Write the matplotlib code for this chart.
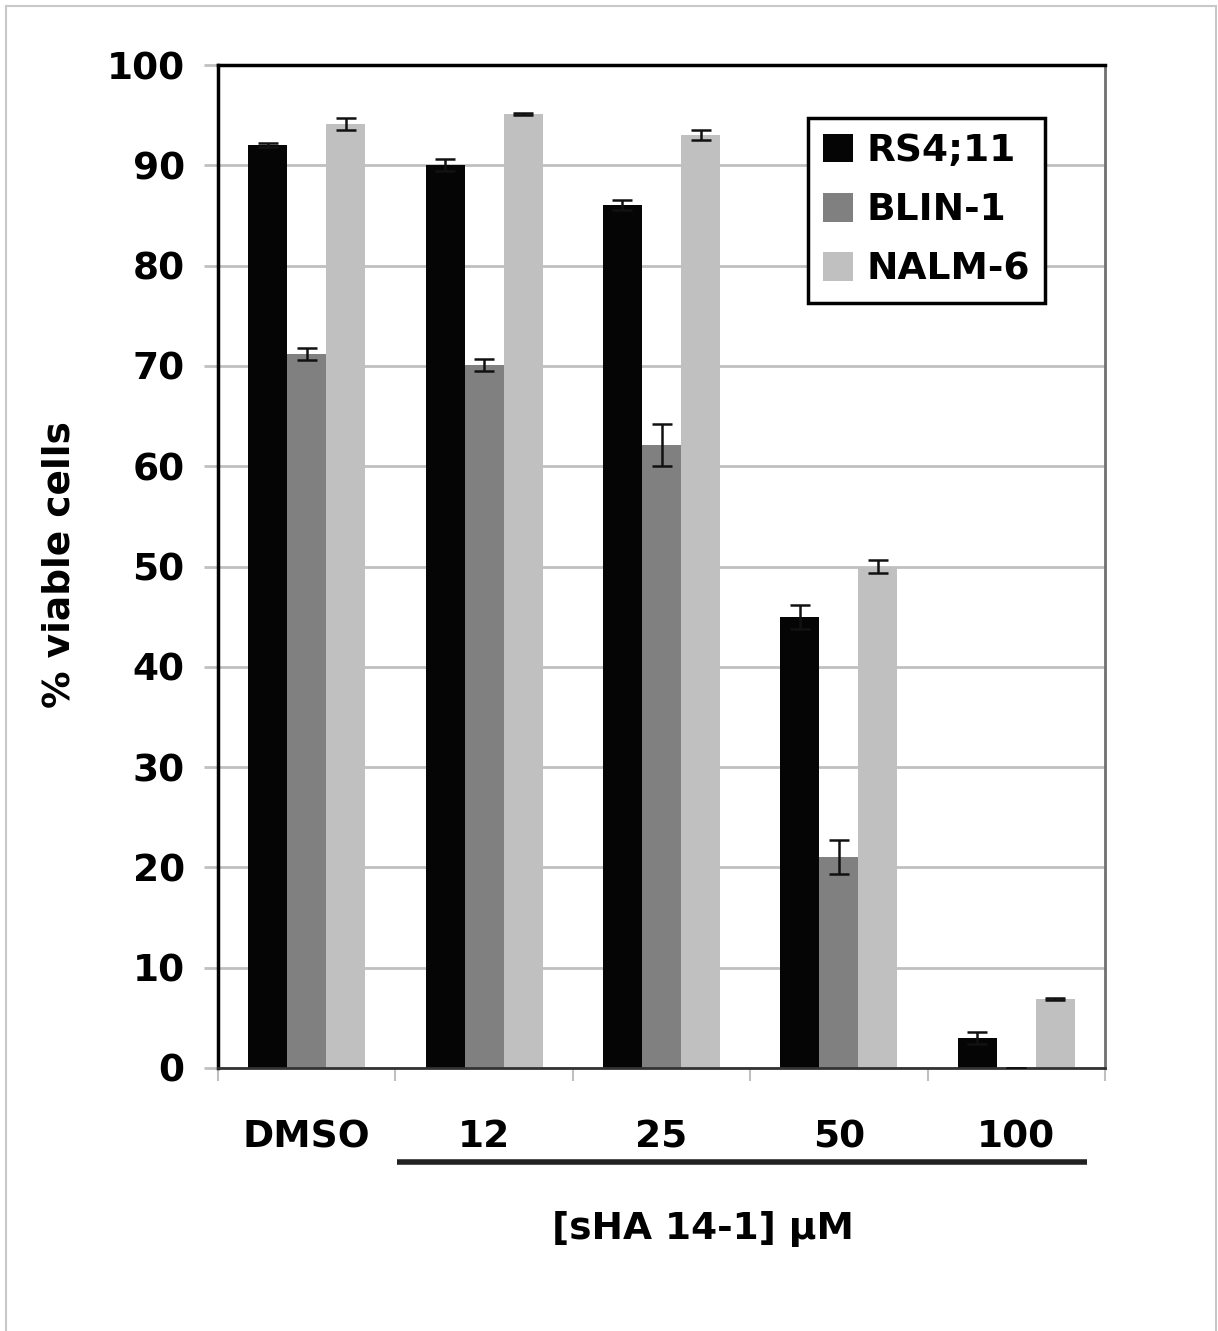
import numpy as np
import matplotlib.pyplot as plt
from matplotlib.patches import Rectangle

# Datos
categories = ['DMSO', '12', '25', '50', '100']
series = ['RS4;11', 'BLIN-1', 'NALM-6']
rs4 = [92, 90, 86, 45, 3]
rs4_err = [0.2, 0.6, 0.5, 1.2, 0.6]
blin = [71.2, 70.1, 62.1, 21.0, 0]
blin_err = [0.6, 0.6, 2.1, 1.7, 0]
nalm = [94.1, 95.1, 93.0, 50.0, 6.9]
nalm_err = [0.6, 0.1, 0.5, 0.6, 0.1]
colors = ['#050505', '#808080', '#c0c0c0']

plt.rcParams['font.family'] = 'DejaVu Sans'
plt.rcParams['font.weight'] = 'bold'
fs = 27

fig = plt.figure(figsize=(12.18, 13.31), dpi=100)
ax = fig.add_axes([218/1218, 1 - 1068/1331, 887/1218, 1003/1331])

x = np.arange(len(categories))
w = 0.22
values = [rs4, blin, nalm]
errors = [rs4_err, blin_err, nalm_err]
for i, (vals, errs) in enumerate(zip(values, errors)):
    pos = x + (i - 1) * w
    ax.bar(pos, vals, w, color=colors[i], label=series[i], zorder=2)
    ax.errorbar(pos, vals, yerr=errs, fmt='none', ecolor='#111111',
                elinewidth=1.8, capsize=7, capthick=1.8, zorder=3)

ax.set_xlim(-0.5, 4.5)
ax.set_ylim(0, 100)
ax.set_yticks(np.arange(0, 101, 10))
ax.grid(axis='y', color='#c0c0c0', linewidth=2, zorder=0)
ax.set_axisbelow(True)
ax.tick_params(axis='y', length=10, width=2, color='#c0c0c0', pad=14,
               labelsize=fs)

ax.set_xticks(x)
ax.set_xticklabels(categories)
ax.tick_params(axis='x', which='major', length=0, pad=37, labelsize=fs)
ax.set_xticks(np.arange(-0.5, 5, 1), minor=True)
ax.tick_params(axis='x', which='minor', length=9, width=1.5, color='#c0c0c0')

for s in ['left', 'top']:
    ax.spines[s].set_linewidth(2.5)
    ax.spines[s].set_color('black')
ax.spines['right'].set_linewidth(2)
ax.spines['right'].set_color('#707070')
ax.spines['bottom'].set_linewidth(2)
ax.spines['bottom'].set_color('#333333')

# Linea bajo las concentraciones
trans = ax.get_xaxis_transform()
ax.plot([0.509, 4.399], [-0.0937, -0.0937], color='#222222', linewidth=4,
        transform=trans, clip_on=False, solid_capstyle='butt')
ax.text(0.547, -0.161, '[sHA 14-1] µM', transform=ax.transAxes,
        ha='center', va='center', fontsize=fs)

fig.text(60/1218, 1 - 565/1331, '% viable cells', rotation=90,
         ha='center', va='center', fontsize=fs)

leg = ax.legend(loc='upper right', bbox_to_anchor=(0.932, 0.947),
                fontsize=fs, frameon=True, fancybox=False, framealpha=1,
                edgecolor='black', handlelength=0.8, handleheight=0.8,
                handletextpad=0.35, labelspacing=0.62, borderpad=0.4,
                borderaxespad=0)
leg.get_frame().set_linewidth(2.5)

# Marco exterior
fig.patches.append(Rectangle((6/1218, -0.01), 1210/1218, 1.01 - 6/1331,
                             transform=fig.transFigure, fill=False,
                             edgecolor='#c8c8c8', linewidth=1.5))

fig.savefig('out.png', dpi=100)
